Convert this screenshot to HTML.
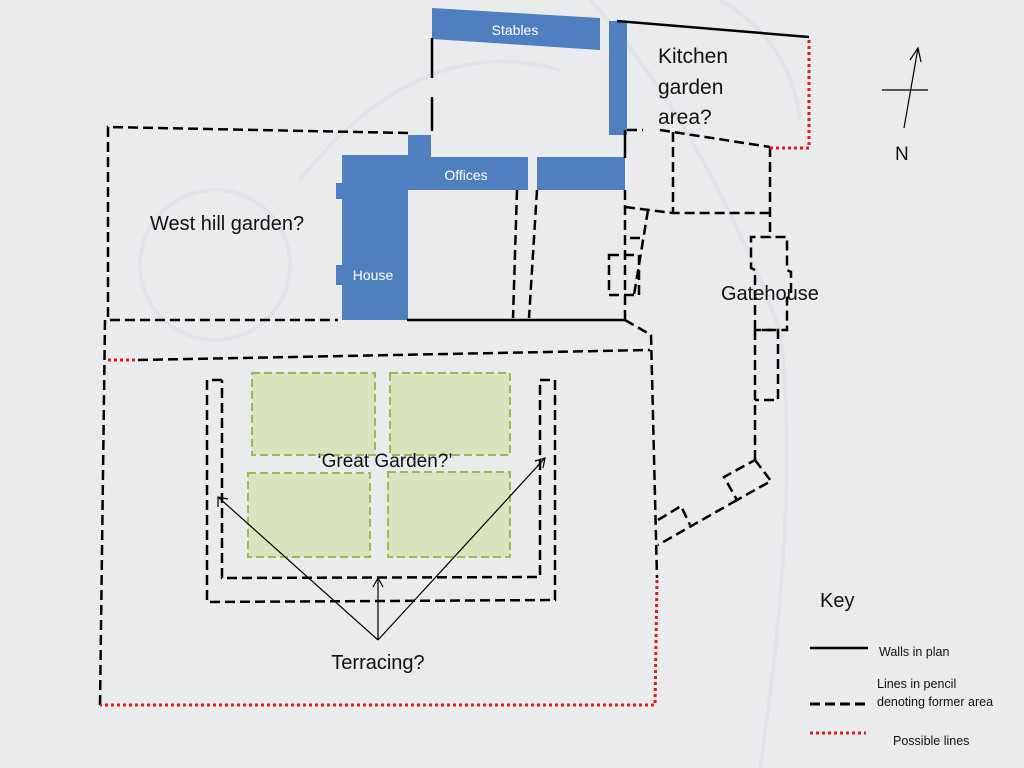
<!DOCTYPE html>
<html><head><meta charset="utf-8"><style>
html,body{margin:0;padding:0;background:#eaebed;}
svg{display:block;font-family:"Liberation Sans",sans-serif;}
</style></head><body>
<svg width="1024" height="768" viewBox="0 0 1024 768" xmlns="http://www.w3.org/2000/svg">
<rect width="1024" height="768" fill="#eaebed"/>
<g fill="none" stroke="#e2e3e6" stroke-width="4">
<circle cx="215" cy="265" r="75"/>
<path d="M590 0 Q700 120 780 330 Q800 500 760 768"/>
<path d="M300 180 Q420 30 560 70"/>
<path d="M720 0 Q790 40 800 120"/>
</g>
<!-- blue buildings -->
<g fill="#4f7fbf">
<polygon points="432,8 600,18 600,50 432,39"/>
<rect x="609" y="21" width="18" height="114"/>
<rect x="408" y="135" width="23" height="24"/>
<rect x="342" y="155" width="66" height="165"/>
<rect x="336" y="183" width="8" height="16"/>
<rect x="336" y="265" width="8" height="20"/>
<rect x="407" y="157" width="121" height="33"/>
<rect x="537" y="157" width="88" height="33"/>
</g>
<g fill="#fff" font-size="14">
<text x="515" y="35" text-anchor="middle">Stables</text>
<text x="466" y="180" text-anchor="middle">Offices</text>
<text x="373" y="280" text-anchor="middle">House</text>
</g>
<!-- solid walls -->
<g stroke="#000" stroke-width="2.5" fill="none">
<line x1="432" y1="38" x2="432" y2="78"/>
<line x1="432" y1="97" x2="432" y2="131"/>
<line x1="617" y1="21" x2="809" y2="37"/>
<line x1="625" y1="130" x2="625" y2="158"/>
<line x1="407" y1="320" x2="625" y2="320"/>
</g>
<!-- dashed -->
<g stroke="#000" stroke-width="2.5" fill="none" stroke-dasharray="10,5">
<path d="M408,133 L108,127 L108,320 L338,320"/>
<path d="M105,320 L100,705"/>
<path d="M625,320 L651,335 L657,578"/>
<path d="M138,360 L650,350"/>
<path d="M627,130 L643,130"/>
<path d="M660,130 L770,147"/>
<line x1="673" y1="132" x2="673" y2="213"/>
<path d="M625,207 L673,213 L770,213"/>
<line x1="770" y1="147" x2="770" y2="238"/>
<line x1="625" y1="190" x2="625" y2="320"/>
<path d="M648,210 L634,295"/>
<path d="M630,238 L642,238"/>
<rect x="609" y="255" width="30" height="40"/>
<line x1="517" y1="190" x2="513" y2="318"/>
<line x1="537" y1="190" x2="529" y2="318"/>
<!-- gatehouse -->
<path d="M755,330 L755,270 L751,268 L751,237 L787,237 L787,270 L791,272 L791,296 L787,298 L787,330 Z"/>
<path d="M755,330 L755,460"/>
<path d="M762,330 L778,330 L778,400 L755,400"/>
<path d="M755,460 L771,481 L737,500 L724,477 Z"/>
<path d="M737,500 L658,545"/>
<path d="M658,520 L681,506 L690,525"/>
<!-- U terraces -->
<path d="M222,380 L207,380 L207,602 L555,600 L555,380 L540,380 L540,577 L227,578 L222,578 L222,380"/>
</g>
<!-- red dotted -->
<g stroke="#e0191b" stroke-width="3" fill="none" stroke-dasharray="3,3">
<path d="M770,148 L809,148 L809,37"/>
<path d="M108,360 L138,360"/>
<path d="M657,580 L655,705 L100,705"/>
</g>
<!-- green beds -->
<g fill="#d7e4bd" stroke="#9bbb59" stroke-width="2" stroke-dasharray="8,4">
<rect x="252" y="373" width="123" height="82"/>
<rect x="390" y="373" width="120" height="82"/>
<rect x="248" y="473" width="122" height="84"/>
<rect x="388" y="472" width="122" height="85"/>
</g>
<!-- arrows -->
<g stroke="#000" stroke-width="1.2" fill="none">
<line x1="378" y1="640" x2="218" y2="497"/>
<line x1="378" y1="640" x2="545" y2="458"/>
<line x1="378" y1="640" x2="378" y2="578"/>
<path d="M218,507 L218,497 L228,499"/>
<path d="M535,461 L545,458 L543,468"/>
<path d="M373,587 L378,578 L383,587"/>
<line x1="904" y1="128" x2="918" y2="48"/>
<path d="M910,60 L918,48 L921,62"/>
<line x1="882" y1="90" x2="928" y2="90"/>
</g>
<g fill="#111">
<text x="385" y="467" font-size="19" text-anchor="middle">‘Great Garden?’</text>
<text x="378" y="669" font-size="20" text-anchor="middle">Terracing?</text>
<text x="150" y="230" font-size="20">West hill garden?</text>
<text x="658" y="63" font-size="21">Kitchen</text>
<text x="658" y="94" font-size="21">garden</text>
<text x="658" y="124" font-size="21">area?</text>
<text x="721" y="300" font-size="20">Gatehouse</text>
<text x="895" y="160" font-size="19">N</text>
<text x="820" y="607" font-size="20">Key</text>
<text x="879" y="656" font-size="12.5">Walls in plan</text>
<text x="877" y="688" font-size="12.5">Lines in pencil</text>
<text x="877" y="706" font-size="12.5">denoting former area</text>
<text x="893" y="745" font-size="12.5">Possible lines</text>
</g>
<line x1="810" y1="648" x2="868" y2="648" stroke="#000" stroke-width="2.5"/>
<line x1="810" y1="704" x2="868" y2="704" stroke="#000" stroke-width="3" stroke-dasharray="10,5"/>
<line x1="810" y1="733" x2="866" y2="733" stroke="#e0191b" stroke-width="3" stroke-dasharray="3,3"/>
</svg>
</body></html>
